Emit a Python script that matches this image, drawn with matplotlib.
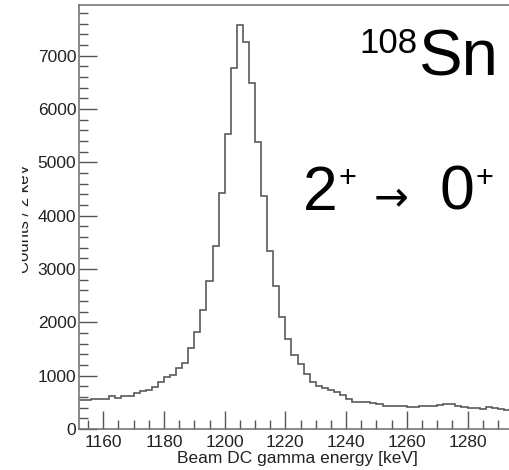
import numpy as np
import matplotlib
matplotlib.use("Agg")
import matplotlib.pyplot as plt
from matplotlib.transforms import Bbox, TransformedBbox

plt.rcParams['font.family'] = ['Liberation Sans', 'DejaVu Sans']

# ---- data ----
bin_start = 1152
bin_width = 2
counts = [535, 550, 565, 565, 570, 615, 575, 610, 620, 680,
          712, 735, 795, 874, 975, 1011, 1136, 1245, 1511, 1811,
          2228, 2772, 3433, 4430, 5524, 6773, 7566, 7253, 6486, 5381,
          4375, 3330, 2678, 2100, 1685, 1386, 1217, 1030, 874, 811,
          762, 730, 687, 637, 556, 505, 500, 500, 495, 468,
          431, 431, 425, 430, 410, 405, 430, 425, 440, 445,
          465, 460, 430, 420, 390, 385, 370, 415, 395, 380, 360]
xticks = [1160, 1180, 1200, 1220, 1240, 1260, 1280]
yticks = [0, 1000, 2000, 3000, 4000, 5000, 6000, 7000]
xlabel = "Beam DC gamma energy [keV]"
ylabel = "Counts / 2 keV"

edges = bin_start + bin_width * np.arange(len(counts) + 1)

W, H = 510, 470
fig = plt.figure(figsize=(W / 100, H / 100), dpi=100)
ax = fig.add_axes([79 / W, 1 - 429 / H, (510 - 79) / W, (429 - 5) / H])

ax.stairs(counts, edges, baseline=None, color='#5a5a5a', linewidth=1.2)

ax.set_xlim(1152, 1294)
ax.set_ylim(0, 7950)

ax.set_xticks(xticks)
ax.set_xticks(np.arange(1155, 1295, 5), minor=True)
ax.set_yticks(yticks)
ax.set_yticks(np.arange(0, 7950, 200), minor=True)

for s in ['left', 'bottom', 'top']:
    ax.spines[s].set_color('#777777')
    ax.spines[s].set_linewidth(1.2)
ax.spines['right'].set_visible(False)

ax.tick_params(which='both', direction='in', color='#555555', width=1.0,
               top=False, right=False)
ax.tick_params(which='major', length=13, labelsize=12.5, labelcolor='#222222')
ax.tick_params(which='minor', length=6.5)
ax.tick_params(axis='y', which='major', pad=2)
ax.tick_params(axis='x', which='major', pad=4)

fig.text(297 / W, 1 - 458 / H, xlabel, ha='center', va='center',
         fontsize=12.5, color='#222222')

yl = fig.text(32 / W, 1 - 218 / H, ylabel, rotation=90, ha='right',
              va='center', fontsize=12, color='#222222')
yl.set_clip_box(TransformedBbox(Bbox([[22 / W, 0], [1, 1]]), fig.transFigure))
yl.set_clip_on(True)

# annotations
fig.text(359 / W, 1 - 53 / H, "108", ha='left', va='baseline',
         fontsize=25, color='black')
fig.text(419 / W, 1 - 75 / H, "Sn", ha='left', va='baseline',
         fontsize=47, color='black')

fig.text(303 / W, 1 - 210 / H, "2", ha='left', va='baseline',
         fontsize=45, color='black')
fig.text(339 / W, 1 - 187 / H, "+", ha='left', va='baseline',
         fontsize=22, color='black')
fig.text(391 / W, 1 - 198 / H, "\u2192", ha='center', va='center',
         fontsize=30, color='black', family=['DejaVu Sans'])
fig.text(440 / W, 1 - 210 / H, "0", ha='left', va='baseline',
         fontsize=45, color='black')
fig.text(476 / W, 1 - 187 / H, "+", ha='left', va='baseline',
         fontsize=22, color='black')

fig.savefig("out.png", dpi=100)
